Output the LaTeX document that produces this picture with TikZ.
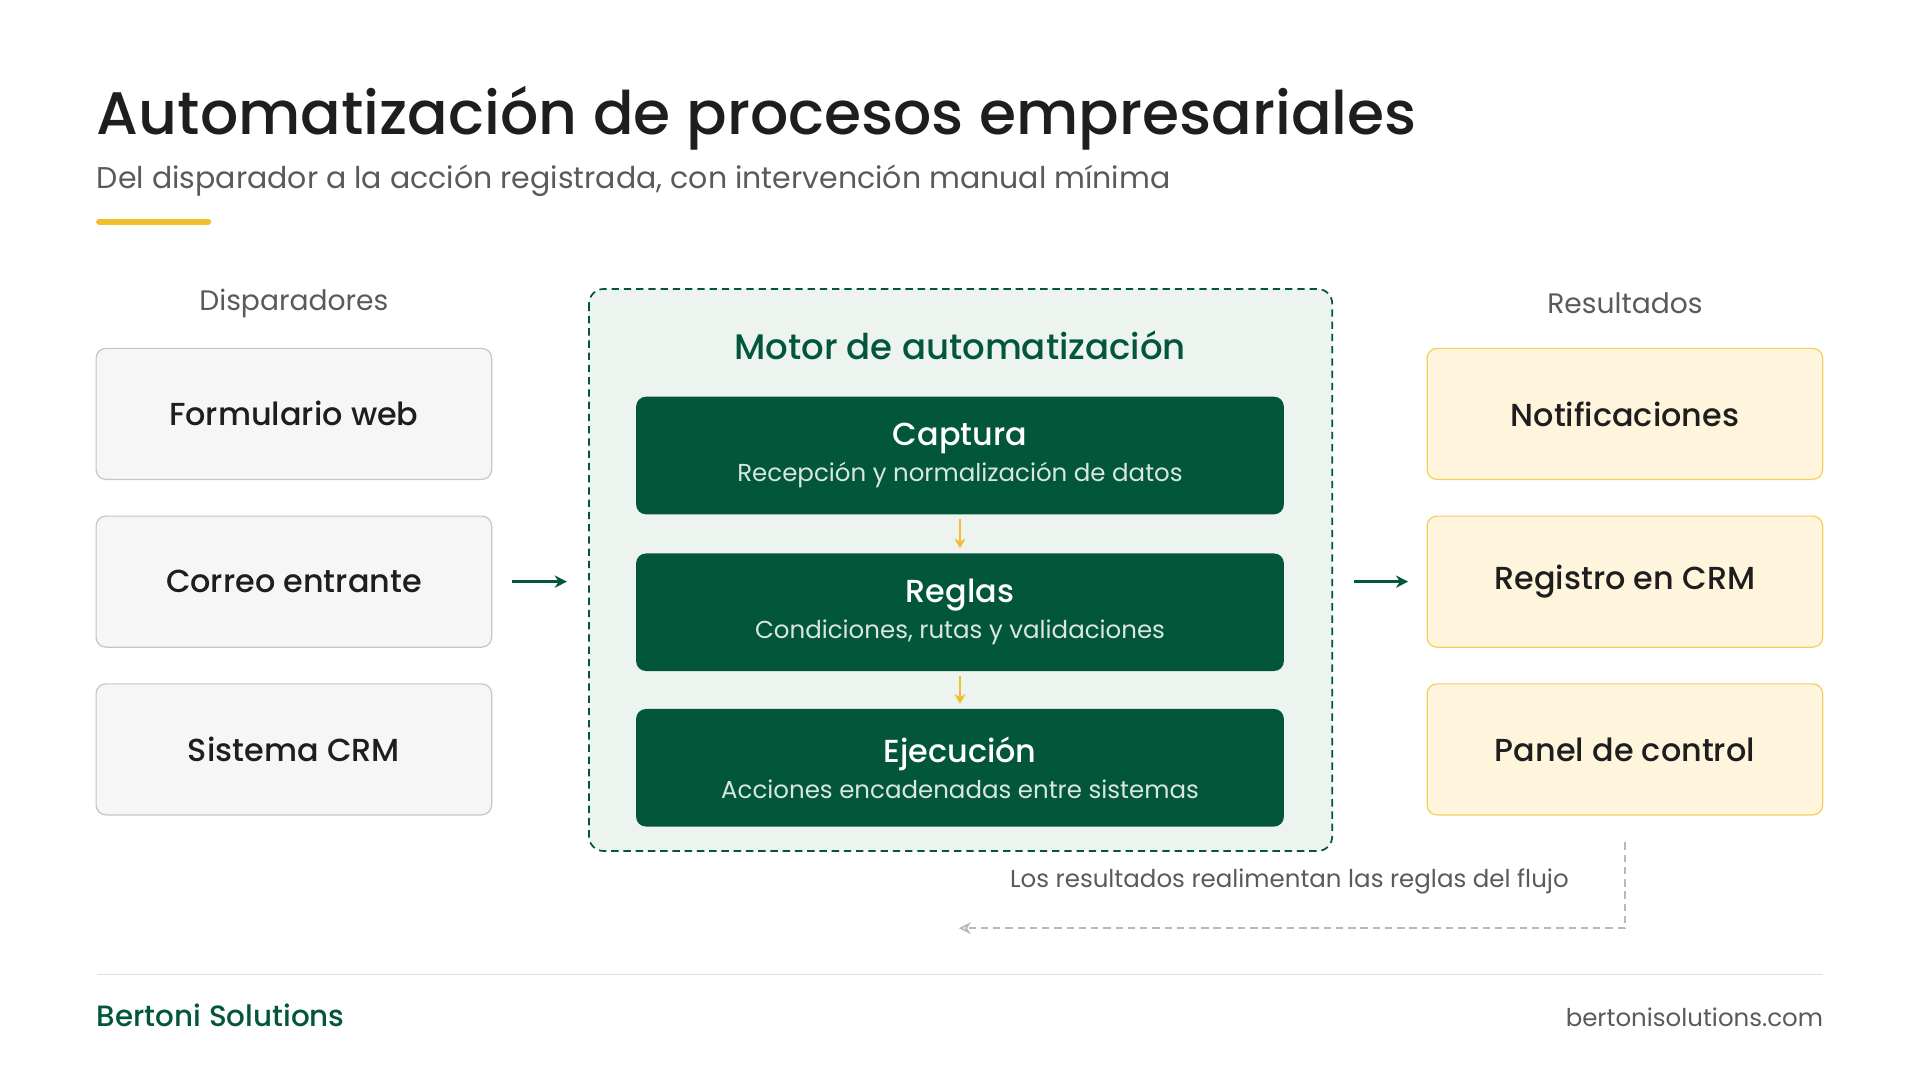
\documentclass[tikz,border=0pt]{standalone}
\usepackage{fontspec}
\setmainfont{Poppins}[BoldFont={Poppins Medium}]
\usetikzlibrary{positioning,arrows.meta}
\definecolor{motor}{HTML}{02573A}
\definecolor{motorbg}{HTML}{EDF3EE}
\definecolor{amarillo}{HTML}{F2BE2C}
\definecolor{resbg}{HTML}{FEF5DC}
\definecolor{resborde}{HTML}{F4CF5E}
\definecolor{texto}{HTML}{1E1E1E}
\definecolor{gris}{HTML}{5A5A5A}
\tikzset{
  entrada/.style={draw=gray!45,fill=gray!7,rounded corners=8pt,line width=1pt,
    minimum width=323pt,minimum height=107pt,font=\fontsize{26}{30}\selectfont\bfseries,text=texto},
  salida/.style={entrada,draw=resborde,fill=resbg},
  paso/.style={fill=motor,rounded corners=8pt,minimum width=529pt,minimum height=96pt,
    align=center,text=white},
  flecha/.style={-{Stealth[length=10pt,width=10pt]},line width=2.4pt,motor},
  enlace/.style={-{Stealth[length=8pt,width=9pt]},line width=2pt,amarillo},
}
\begin{document}
\begin{tikzpicture}[x=1pt,y=-1pt]
\useasboundingbox (0,0) rectangle (1568,882);
% encabezado
\node[anchor=base west,font=\fontsize{49}{53}\selectfont\bfseries,text=texto,inner sep=0] (titulo) at (79,110) {Automatización de procesos empresariales};
\node[anchor=base west,font=\fontsize{24.5}{28}\selectfont,text=gris,inner sep=0] (sub) at (79,154) {Del disparador a la acción registrada, con intervención manual mínima};
\draw[amarillo,line width=5pt,line cap=round] (81,181) -- (170,181);
% motor
\draw[motor,dash pattern=on 6pt off 4pt,fill=motorbg,rounded corners=12pt,line width=1.4pt] (481,236) rectangle (1088,695);
\node[font=\fontsize{29}{33}\selectfont\bfseries,text=motor] (motortit) at (784,282) {Motor de automatización};
\node[paso] (captura) at (784,372) {{\fontsize{26}{30}\selectfont\bfseries Captura}\\[6pt]{\fontsize{20}{23}\selectfont\color{white!85!motor}Recepción y normalización de datos}};
\node[paso] (reglas) at (784,500) {{\fontsize{26}{30}\selectfont\bfseries Reglas}\\[6pt]{\fontsize{20}{23}\selectfont\color{white!85!motor}Condiciones, rutas y validaciones}};
\node[paso] (ejecucion) at (784,627) {{\fontsize{26}{30}\selectfont\bfseries Ejecución}\\[6pt]{\fontsize{20}{23}\selectfont\color{white!85!motor}Acciones encadenadas entre sistemas}};
\draw[enlace] ([yshift=-4pt]captura.south) -- ([yshift=4pt]reglas.north);
\draw[enlace] ([yshift=-4pt]reglas.south) -- ([yshift=4pt]ejecucion.north);
% disparadores
\node[font=\fontsize{23}{26}\selectfont,text=gris] (disp) at (240,248) {Disparadores};
\node[entrada] (web) at (240,338) {Formulario web};
\node[entrada] (correo) at (240,475) {Correo entrante};
\node[entrada] (crm) at (240,612) {Sistema CRM};
% resultados
\node[font=\fontsize{23}{26}\selectfont,text=gris] (res) at (1327,248) {Resultados};
\node[salida] (notif) at (1327,338) {Notificaciones};
\node[salida] (registro) at (1327,475) {Registro en CRM};
\node[salida] (panel) at (1327,612) {Panel de control};
\coordinate (ein) at (481,475);
\coordinate (eout) at (1088,475);
\draw[flecha] ([xshift=16pt]correo.east) -- ([xshift=-18pt]ein);
\draw[flecha] ([xshift=18pt]eout) -- ([xshift=-15pt]registro.west);
% realimentacion
\coordinate (fin) at (783,758);
\draw[gray!55,dash pattern=on 6pt off 4pt,line width=1.4pt,-{Stealth[open,length=10pt,width=10pt]}] ([yshift=-22pt]panel.south) |- (fin);
\node[font=\fontsize{20}{23}\selectfont,text=gris] (nota) at (1053,720) {Los resultados realimentan las reglas del flujo};
% pie
\draw[gray!25,line width=1.2pt] (79,796) -- (1489,796);
\node[anchor=base west,inner sep=0,font=\fontsize{24}{27}\selectfont\bfseries,text=motor] (marca) at (79,838) {Bertoni Solutions};
\node[anchor=base east,inner sep=0,font=\fontsize{20}{23}\selectfont,text=gris] (web2) at (1489,838) {bertonisolutions.com};
\end{tikzpicture}
\end{document}
